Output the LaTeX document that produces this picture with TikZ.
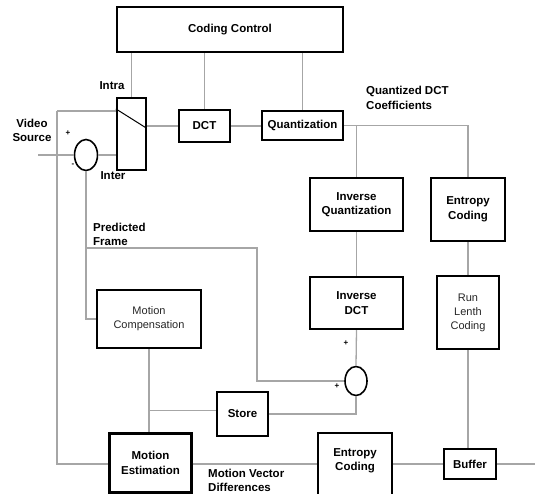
\documentclass[tikz,border=0pt]{standalone}
\usepackage{fontspec}
\setmainfont{Liberation Sans}
\usetikzlibrary{calc,shapes.geometric}
\begin{document}
\begin{tikzpicture}[x=1pt,y=-1pt,
  box/.style={draw=black,line width=2.2pt,rectangle,inner sep=0pt,align=center,font=\fontsize{11.5}{14.5}\selectfont\bfseries},
  lbox/.style={box,font=\fontsize{11}{14}\selectfont,text=black!85},
  sum/.style={draw=black,line width=1.6pt,ellipse,inner sep=0pt},
  wire/.style={draw=gray!70,line width=1.3pt},
  lbl/.style={inner sep=0pt,align=center,font=\fontsize{11.5}{14.5}\selectfont\bfseries},
  sgn/.style={inner sep=0pt,font=\footnotesize\bfseries}]
\useasboundingbox (0,0) rectangle (535,494);
% boxes
\node[box,minimum width=226,minimum height=45] (cc) at (230,29.5) {Coding Control};
\node[box,minimum width=29,minimum height=72] (sw) at (131.5,134) {};
\node[box,minimum width=51,minimum height=32] (dct) at (204.5,126) {DCT};
\node[box,minimum width=81,minimum height=29] (quant) at (302.5,125.5) {Quantization};
\node[box,minimum width=93,minimum height=53] (iq) at (356.5,204.5) {Inverse\\Quantization};
\node[box,minimum width=74,minimum height=63] (ec1) at (468,209.5) {Entropy\\Coding};
\node[box,minimum width=93,minimum height=52] (idct) at (356.5,303) {Inverse\\DCT};
\node[lbox,minimum width=62,minimum height=73] (rlc) at (468,312.5) {Run\\Lenth\\Coding};
\node[lbox,minimum width=104,minimum height=58] (mc) at (149,319) {Motion\\Compensation};
\node[box,minimum width=51,minimum height=44] (store) at (242.5,414) {Store};
\node[box,minimum width=82,minimum height=59] (me) at (150.5,463) {Motion\\Estimation};
\node[box,minimum width=74,minimum height=62] (ec2) at (355,464) {};
\node[lbl] (ec2t) at (355,461) {Entropy\\Coding};
\node[box,minimum width=52,minimum height=30] (buf) at (470,464) {Buffer};
% summing junctions
\node[sum,minimum width=23,minimum height=31] (e1) at (86,155) {};
\node[sum,minimum width=22,minimum height=29] (e2) at (356,381) {};
% switch blade
\draw[line width=1pt] ($(sw.north west)+(0,12)$) -- ($(sw.north east)+(-1,31)$);
% coordinates
\coordinate (vs) at (38,155);
\coordinate (lt) at (57,111);
\coordinate (lb) at (57,464);
\coordinate (pf) at (86,248);
\coordinate (pr) at (257,248);
\coordinate (out) at (535,464);
% wires
\draw[wire] (sw.north) -- (sw.north |- cc.south);
\draw[wire] (dct.north) -- (dct.north |- cc.south);
\draw[wire] (quant.north) -- (quant.north |- cc.south);
\draw[wire] (sw.east |- dct.west) -- (dct.west);
\draw[wire] (dct.east) -- (dct.east -| quant.west);
\draw[wire] (quant.east) -| (ec1.north);
\draw[wire] (iq.north |- quant.east) -- (iq.north);
\draw[wire] (iq.south) -- (idct.north);
\draw[wire] (idct.south) -- (e2.north);
\draw[wire] (ec1.south) -- (rlc.north);
\draw[wire] (rlc.south) -- (rlc.south |- buf.north);
\draw[wire] (vs) -- (e1.west);
\draw[wire] (e1.east) -- (e1.east -| sw.west);
\draw[wire] (lt) -- (lt -| sw.west);
\draw[wire] (lt) -- (lb) -- (lb -| me.west);
\draw[wire] (e1.south) -- (e1.south |- mc.west) -- (mc.west);
\draw[wire] (pf) -- (pr) -- (pr |- e2.west) -- (e2.west);
\draw[wire] (mc.south) -- (mc.south |- me.north);
\draw[wire] ($(mc.south)!0.735!(mc.south |- me.north)$) coordinate (br) -- (br -| store.west);
\draw[wire] (e2.south) -- (e2.south |- store.east) -- (store.east);
\draw[wire] (me.east |- buf.west) -- (ec2.west |- buf.west);
\draw[wire] (ec2.east |- buf.west) -- (buf.west);
\draw[wire] (buf.east) -- (out);
% labels
\node[lbl] (intra) at (112,86) {Intra};
\node[lbl] (inter) at (113,176) {Inter};
\node[lbl] (vsl) at (32,130.5) {Video\\Source};
\node[lbl,align=left,anchor=west] (pfl) at (93,234.5) {Predicted\\Frame};
\node[lbl,align=left,anchor=west] (qdl) at (366,98) {Quantized DCT\\Coefficients};
\node[lbl,align=left,anchor=west] (mvl) at (208,480.5) {Motion Vector\\Differences};
\node[sgn] (p1) at (68,133) {+};
\node[sgn] (m1) at (73,165) {-};
\node[sgn] (p2) at (346,343) {+};
\node[sgn] (p3) at (337,386) {+};
\end{tikzpicture}
\end{document}
